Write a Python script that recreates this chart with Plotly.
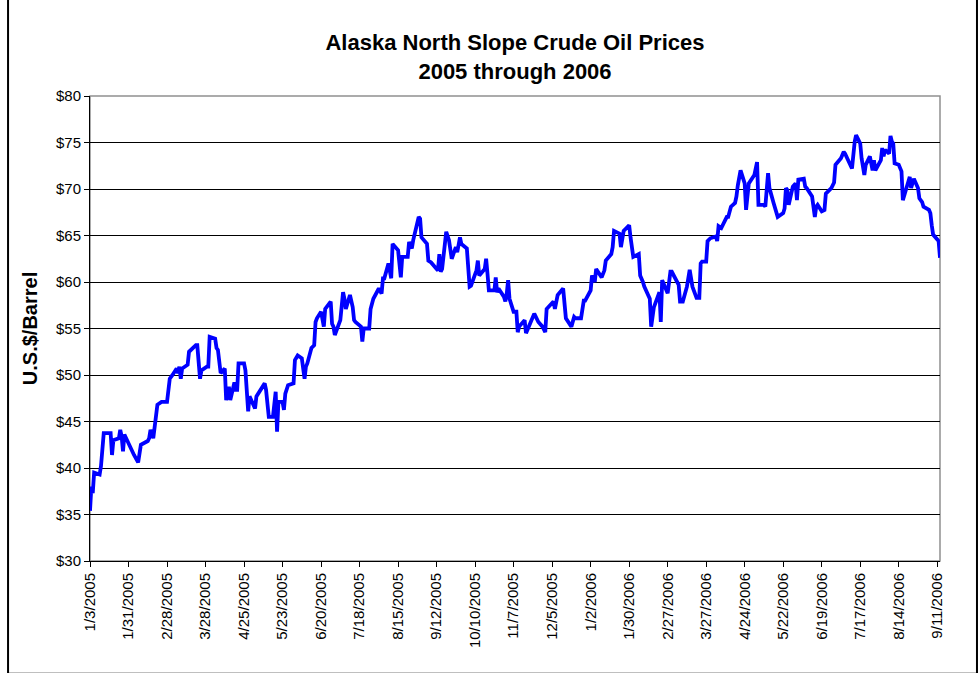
import pandas as pd
import plotly.graph_objects as go

# trading day number (0 = 1/3/2005) and ANS price, $/barrel
obs = [0, 1, 2, 3, 5, 6, 8, 11, 12, 13, 15, 16, 17, 18, 19, 21, 22, 24, 25, 27,
       30, 31, 32, 34, 35, 37, 38, 40, 42, 44, 45, 46, 47, 48, 49, 51, 52, 55, 56, 58,
       59, 61, 62, 63, 65, 66, 67, 69, 70, 71, 73, 74, 75, 76, 77, 78, 80, 81, 82, 83,
       84, 86, 87, 89, 91, 92, 93, 94, 95, 97, 98, 99, 100, 101, 102, 104, 106, 107, 109, 110,
       112, 113, 114, 115, 117, 118, 119, 120, 122, 123, 125, 126, 127, 128, 130, 131, 132, 133, 134, 135,
       137, 138, 139, 141, 142, 143, 145, 146, 148, 150, 152, 153, 154, 155, 157, 158, 160, 162, 163, 165,
       166, 168, 169, 171, 172, 173, 175, 176, 178, 180, 181, 182, 183, 184, 185, 187, 189, 190, 191, 193,
       194, 196, 198, 199, 201, 202, 203, 205, 206, 207, 208, 210, 211, 212, 213, 215, 216, 217, 218, 219,
       220, 222, 223, 224, 226, 227, 228, 229, 231, 233, 234, 235, 237, 238, 240, 241, 242, 244, 246, 247,
       248, 250, 252, 253, 255, 257, 258, 260, 261, 263, 264, 266, 268, 269, 271, 272, 273, 275, 276, 278,
       280, 281, 283, 285, 286, 288, 289, 291, 292, 294, 295, 296, 297, 298, 300, 302, 303, 306, 307, 309,
       310, 312, 314, 315, 317, 318, 319, 320, 321, 323, 325, 326, 327, 329, 330, 331, 332, 333, 334, 335,
       336, 337, 339, 340, 341, 343, 345, 347, 348, 350, 351, 353, 354, 355, 357, 358, 360, 361, 362, 363,
       364, 365, 367, 368, 369, 371, 372, 373, 375, 377, 378, 379, 380, 382, 383, 385, 387, 388, 390, 392,
       393, 395, 396, 398, 399, 400, 401, 403, 404, 405, 407, 408, 409, 411, 412, 413, 414, 415, 416, 417,
       418, 419, 420, 422, 423, 425, 426, 427, 429, 430, 431, 433, 434, 436, 437, 438, 439, 441, 442]

price = [35.4, 38.0, 37.3, 39.5, 39.3, 40.2, 43.75, 43.75, 41.4, 43.0, 43.2, 44.1, 43.4, 41.8, 43.6, 42.3, 42.1, 41.4, 40.6, 42.5,
         42.9, 43.2, 44.1, 43.2, 46.8, 47.0, 47.1, 47.1, 49.6, 50.0, 50.7, 50.2, 50.9, 49.6, 50.7, 51.1, 52.5, 53.2, 53.2, 49.6,
         50.5, 50.9, 50.9, 54.1, 53.9, 52.9, 52.7, 50.2, 50.7, 47.3, 48.75, 47.3, 49.2, 48.4, 48.4, 51.25, 51.25, 50.5, 47.9, 46.1,
         47.7, 46.4, 47.7, 48.2, 49.1, 48.4, 47.3, 45.5, 45.5, 48.2, 43.9, 47.1, 47.1, 46.25, 48.0, 48.9, 49.1, 51.6, 52.1, 51.8,
         49.6, 50.9, 51.25, 52.9, 53.2, 55.7, 56.1, 56.8, 55.2, 57.1, 57.9, 55.5, 55.2, 54.3, 55.9, 57.3, 58.9, 58.2, 57.1, 58.6,
         57.3, 55.9, 55.7, 55.2, 53.6, 55.0, 55.0, 57.1, 58.2, 59.3, 58.75, 60.4, 60.4, 62.0, 60.4, 64.1, 63.4, 60.5, 62.7, 62.7,
         64.3, 63.6, 64.5, 67.0, 66.8, 64.8, 64.1, 62.3, 62.1, 61.4, 61.25, 63.0, 61.1, 61.4, 65.4, 64.5, 62.5, 63.75, 63.2, 64.8,
         64.1, 63.6, 59.5, 59.6, 61.25, 62.3, 60.7, 61.4, 62.5, 60.9, 59.1, 59.1, 60.5, 58.9, 59.3, 58.4, 57.9, 58.75, 60.2, 58.2,
         56.8, 56.8, 54.6, 55.2, 55.9, 54.5, 54.8, 55.2, 56.6, 56.1, 55.7, 55.2, 54.6, 57.1, 57.7, 57.9, 57.1, 58.6, 59.3, 57.3,
         56.1, 55.2, 56.25, 56.1, 56.1, 58.0, 58.0, 59.1, 60.7, 60.0, 61.4, 60.5, 61.25, 62.3, 63.0, 63.75, 65.5, 65.2, 63.75, 65.5,
         66.1, 64.8, 62.7, 63.0, 60.7, 60.0, 59.5, 58.2, 55.2, 57.3, 58.4, 58.9, 55.7, 60.2, 58.8, 61.1, 61.1, 59.7, 57.9, 57.9,
         59.5, 61.3, 59.5, 58.3, 58.3, 62.0, 62.2, 62.2, 64.4, 64.7, 64.9, 64.4, 66.0, 65.8, 66.7, 67.0, 67.0, 67.6, 68.1, 68.5,
         69.2, 70.4, 72.0, 70.6, 67.75, 70.6, 71.5, 72.9, 68.3, 68.3, 68.1, 71.7, 70.1, 68.5, 67.4, 67.0, 67.4, 67.9, 70.1, 69.9,
         68.3, 70.25, 70.6, 68.8, 71.0, 71.1, 70.25, 70.1, 69.2, 67.0, 68.1, 68.3, 67.6, 67.75, 69.5, 70.1, 70.7, 72.6, 73.3, 74.0,
         73.8, 72.6, 72.2, 75.1, 75.8, 74.9, 73.3, 71.5, 72.6, 73.5, 72.0, 73.1, 72.0, 73.1, 74.4, 73.5, 74.2, 73.8, 75.7, 75.1,
         74.9, 72.75, 72.6, 71.9, 68.8, 70.8, 71.3, 70.1, 71.1, 70.1, 69.0, 68.6, 68.1, 67.75, 67.4, 66.1, 65.1, 64.4, 62.6]

tick_labels = ["1/3/2005", "1/31/2005", "2/28/2005", "3/28/2005", "4/25/2005", "5/23/2005",
               "6/20/2005", "7/18/2005", "8/15/2005", "9/12/2005", "10/10/2005", "11/7/2005",
               "12/5/2005", "1/2/2006", "1/30/2006", "2/27/2006", "3/27/2006", "4/24/2006",
               "5/22/2006", "6/19/2006", "7/17/2006", "8/14/2006", "9/11/2006"]

days = pd.bdate_range("2005-01-03", periods=obs[-1] + 1)
x = days[obs]
tick_dates = pd.to_datetime(tick_labels, format="%m/%d/%Y")

# pixel geometry of the original chart
W, H = 980, 673
L, R, T, B = 89.5, 40, 95.7, 112.3
pw, ph = W - L - R, H - T - B

font = "Liberation Sans, Arial, sans-serif"

fig = go.Figure()
fig.add_trace(go.Scatter(x=x, y=price, mode="lines",
                         line=dict(color="#0000FF", width=3.8), hoverinfo="x+y"))

fig.update_layout(
    width=W, height=H,
    margin=dict(l=L, r=R, t=T, b=B, pad=0),
    paper_bgcolor="white", plot_bgcolor="white",
    showlegend=False,
    font=dict(family=font, color="black", size=15),
    title=dict(text="<b>Alaska North Slope Crude Oil Prices<br>2005 through 2006</b>",
               x=0.5, xref="paper", y=1 - 50 / H, yref="container",
               xanchor="center", yanchor="middle",
               font=dict(family=font, size=22, color="black")),
)

fig.update_xaxes(
    type="date", range=[days[0], days[-1]],
    tickmode="array", tickvals=tick_dates, ticktext=tick_labels,
    tickangle=-90, ticks="outside", ticklen=5, tickcolor="black",
    showgrid=False, showline=True, linecolor="black", linewidth=1,
    zeroline=False, tickfont=dict(size=15),
)
fig.update_yaxes(
    range=[30, 80], dtick=5, tick0=30, tickprefix="$",
    ticks="outside", ticklen=5, tickcolor="black",
    showgrid=True, gridcolor="black", gridwidth=1,
    showline=True, linecolor="black", linewidth=1, zeroline=False,
    tickfont=dict(size=15),
    title=dict(text="<b>U.S.$/Barrel</b>", font=dict(size=20), standoff=12),
)

# plot area frame (grey on top/right) and outer chart border
fig.add_shape(type="rect", xref="paper", yref="paper", x0=0, y0=0, x1=1, y1=1,
              line=dict(color="#909090", width=1.5), layer="below")
fig.add_shape(type="rect", xref="paper", yref="paper",
              x0=(7.5 - L) / pw, x1=(977 - L) / pw,
              y0=(H - T - 690) / ph, y1=(H - T - 2.5) / ph,
              line=dict(color="black", width=2))

# page body has an 8px default margin; drop it so the figure sits at the window origin
fig.write_html("out.html", config={"displayModeBar": False},
               post_script="document.body.style.margin='0';")
